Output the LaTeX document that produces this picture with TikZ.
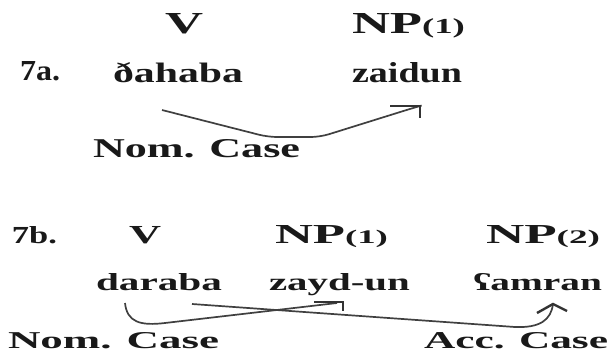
\documentclass[tikz,border=0pt]{standalone}
\usepackage{fontspec}
\setmainfont{Liberation Serif}
\usepackage{graphicx}
\begin{document}
\begin{tikzpicture}[x=1pt,y=-1pt,
  lbl/.style={anchor=base west,inner sep=0pt,outer sep=0pt,text=black!90},
  link/.style={draw=black!75,line width=1.7pt,rounded corners=9pt},
  headline/.style={draw=black!80,line width=2.4pt}]
% text set to a fixed width and height: \tb{width}{height}{text}
\newcommand{\tb}[3]{\resizebox{#1pt}{#2pt}{\bfseries #3}}
\newcommand{\idx}[1]{{\fontsize{7}{8}\selectfont(#1)}}
\useasboundingbox (0,0) rectangle (614,354);
\fill[white] (0,0) rectangle (614,354);

% ---- 7a ----
\node[lbl] (va)   at (165,33)  {\tb{38}{20}{V}};
\node[lbl] (npa)  at (352,33)  {\tb{113}{20}{NP\idx{1}}};
\node[lbl] (ex7a) at (20,80)   {\tb{40}{19}{7a.}};
\node[lbl] (wdh)  at (113,82)  {\tb{130}{20}{ðahaba}};
\node[lbl] (wza)  at (352,82)  {\tb{110}{20}{zaidun}};
\node[lbl] (noma) at (93,157)  {\tb{207}{18}{Nom. Case}};

\coordinate (a1) at (162,110);
\coordinate (a2) at (420,106);
\draw[link] (a1) -- (268,137) -- (320,137) -- (413,108) -- (a2);
\draw[headline] ([xshift=-30pt]a2) -- (a2) -- ([yshift=-12pt]a2);

% ---- 7b ----
\node[lbl] (ex7b) at (12,243)  {\tb{45}{17}{7b.}};
\node[lbl] (vb)   at (129,243) {\tb{32}{17}{V}};
\node[lbl] (npb)  at (275,243) {\tb{113}{18}{NP\idx{1}}};
\node[lbl] (npc)  at (486,243) {\tb{114}{18}{NP\idx{2}}};
\node[lbl] (wda)  at (96,290)  {\tb{126}{17}{daraba}};
\node[lbl] (wzy)  at (269,290) {\tb{141}{17}{zayd-un}};
\node[lbl] (wam)  at (473,290) {\tb{129}{17}{ʕamran}};
\node[lbl] (nomb) at (8,348)   {\tb{211}{16}{Nom. Case}};
\node[lbl] (accb) at (424,348) {\tb{184}{16}{Acc. Case}};

% nominative link: daraba -> zayd-un
\coordinate (b1) at (125,303);
\coordinate (b2) at (343,302);
\draw[link,rounded corners=0pt] (b1) .. controls (127,322) and (140,326) .. (165,323)
  -- (337,303);
\draw[headline] ([xshift=-29pt]b2) -- (b2) -- ([yshift=-9pt]b2);

% accusative link: daraba -> ʕamran
\coordinate (c1) at (192,304);
\coordinate (c2) at (553,304);
\draw[link,rounded corners=0pt] (c1) -- (515,327) .. controls (540,328) and (551,320) .. (c2);
\draw[headline] (537,313) -- (c2) -- (567,311);
\end{tikzpicture}
\end{document}
